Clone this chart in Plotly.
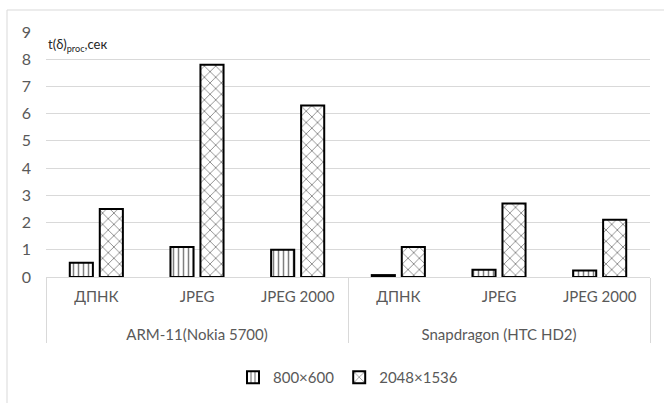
import plotly.graph_objects as go

groups = ["ARM-11(Nokia 5700)"] * 3 + ["Snapdragon (HTC HD2)"] * 3
categories = ["ДПНК", "JPEG", "JPEG 2000", "ДПНК", "JPEG", "JPEG 2000"]
series_names = ["800×600", "2048×1536"]
vals_800 = [0.52, 1.1, 1.0, 0.07, 0.27, 0.24]
vals_2048 = [2.5, 7.8, 6.3, 1.1, 2.7, 2.1]
y_ticks = list(range(0, 10))

FONT = "Lato"
GRAY = "#595959"

spacer = "<br><span style='font-size:32px'>&nbsp;</span>"
cat_labels = [c + spacer for c in categories]

fig = go.Figure()
fig.add_trace(go.Bar(
    x=[groups, cat_labels], y=vals_800, name=series_names[0],
    marker=dict(color="white", line=dict(color="black", width=2),
                pattern=dict(shape="|", fgcolor="black", bgcolor="white", size=5, solidity=0.3)),
))
fig.add_trace(go.Bar(
    x=[groups, cat_labels], y=vals_2048, name=series_names[1],
    marker=dict(color="white", line=dict(color="black", width=2),
                pattern=dict(shape="x", fgcolor="black", bgcolor="white", size=8, solidity=0.2)),
))

fig.update_layout(
    width=664, height=403,
    margin=dict(l=46, r=14, t=32, b=126, autoexpand=False),
    paper_bgcolor="white", plot_bgcolor="white",
    barmode="group", bargap=0.404, bargroupgap=0.23,
    font=dict(family=FONT, size=15, color=GRAY),
    showlegend=True,
    legend=dict(orientation="h", x=0.5, xanchor="center", y=-0.41, yanchor="middle",
                font=dict(family=FONT, size=15, color=GRAY), itemwidth=30),
    xaxis=dict(type="multicategory", showline=True, linecolor="#d9d9d9", linewidth=1,
               showdividers=True, dividercolor="#d9d9d9", dividerwidth=1,
               ticklabelstandoff=6, automargin=False,
               tickfont=dict(family=FONT, size=15, color=GRAY)),
    yaxis=dict(range=[0, 9], tickvals=y_ticks, showgrid=True, gridcolor="#d9d9d9", gridwidth=1,
               zeroline=False, showline=False, ticklabelstandoff=14, automargin=False,
               tickfont=dict(family=FONT, size=16, color=GRAY)),
    shapes=[dict(type="rect", xref="paper", yref="paper",
                 x0=(7 - 46) / 604, x1=1.1, y0=-0.7, y1=1 + 22 / 245,
                 line=dict(color="#d9d9d9", width=1), fillcolor="rgba(0,0,0,0)", layer="below")],
    annotations=[dict(text="t(δ)<sub>proc</sub>,сек", xref="paper", yref="paper",
                      x=0, y=1 - 13 / 245, xanchor="left", yanchor="middle", showarrow=False,
                      font=dict(family=FONT, size=13, color="#262626"))],
)

fig.write_html("out.html")
